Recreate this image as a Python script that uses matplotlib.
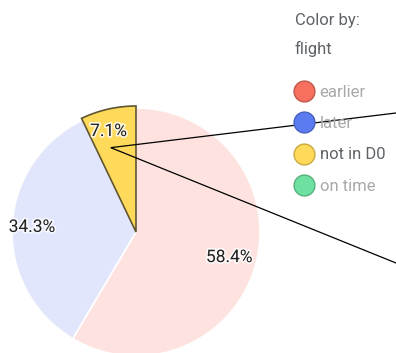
import numpy as np
import matplotlib.pyplot as plt
from matplotlib.lines import Line2D
import matplotlib.patheffects as pe

plt.rcParams['font.family'] = ['Roboto', 'DejaVu Sans']

# data
categories = ['earlier', 'later', 'not in D0', 'on time']
shares = [58.4, 34.3, 7.1, 0.0]
full_colors = ['#f7705f', '#5b7cf0', '#ffd95a', '#6ee0a0']
edge_colors = ['#c0594b', '#4760bb', '#c9a93f', '#55b07d']
faded_colors = ['#fde2df', '#e1e6fd', '#ffd95a', '#dcf7e8']
highlight = 'not in D0'

fig = plt.figure(figsize=(3.96, 3.53), dpi=100)
ax = fig.add_axes([0, 0, 1, 1])

cx, cy, r = 136, 121, 124
vals = [v for v in shares if v > 0]
cols = [faded_colors[i] for i, v in enumerate(shares) if v > 0]
labs = [categories[i] for i, v in enumerate(shares) if v > 0]

wedges, texts, autotexts = ax.pie(
    vals, colors=cols, startangle=90, counterclock=False,
    center=(cx, cy), radius=r, autopct='%.1f%%', pctdistance=0.83,
    wedgeprops=dict(edgecolor='white', linewidth=1.2),
    textprops=dict(fontsize=12.5, color='#222222'))

label_dist = {'earlier': 0.78, 'later': 0.84, 'not in D0': 0.84}
for w, lab, v, t in zip(wedges, labs, vals, autotexts):
    t.set_text(f'{v:.1f}%')
    t.set_path_effects([pe.withStroke(linewidth=2.5, foreground='#ffffffcc')])
    x, y = t.get_position()
    ang = np.arctan2(y - cy, x - cx)
    if lab == highlight:
        ang += np.deg2rad(2.5)
    t.set_position((cx + label_dist[lab] * r * np.cos(ang),
                    cy + label_dist[lab] * r * np.sin(ang)))
    if lab == highlight:
        w.set_radius(r + 2)
        w.set_edgecolor('#5e5530')
        w.set_linewidth(1.2)
        w.set_zorder(3)
        t.set_zorder(4)
        a = np.deg2rad(w.theta1 + 0.65 * (w.theta2 - w.theta1))
        px = cx + 0.71 * r * np.cos(a)
        py = cy + 0.71 * r * np.sin(a)
        # tooltip pointer lines running off the right edge
        for ex, ey in [(396, 90), (396, 240)]:
            ax.plot([px, px + (ex - px) * 1.2], [py, py + (ey - py) * 1.2],
                    color='black', lw=0.9, zorder=6, solid_capstyle='butt')

ax.set_xlim(0, 396)
ax.set_ylim(0, 353)
ax.set_aspect('equal')
ax.axis('off')

fig.text(295 / 396, 1 - 20 / 353, 'Color by:', fontsize=12, color='#5f6368',
         va='center', ha='left')
fig.text(295 / 396, 1 - 49 / 353, 'flight', fontsize=12, color='#5f6368',
         va='center', ha='left')

handles = [Line2D([], [], ls='', marker='o', markersize=15, markerfacecolor=fc,
                  markeredgecolor=ec, markeredgewidth=1.0)
           for fc, ec in zip(full_colors, edge_colors)]
leg = fig.legend(handles, categories, loc='upper left',
                 bbox_to_anchor=(287 / 396, 1 - 78 / 353), frameon=False,
                 fontsize=12, handlelength=1.2, handletextpad=0.35,
                 labelspacing=0.98, borderaxespad=0)
for txt, lab in zip(leg.get_texts(), categories):
    txt.set_color('#5f6368' if lab == highlight else '#a8a8a8')
leg.set_zorder(5)

fig.savefig('out.png', dpi=100)
